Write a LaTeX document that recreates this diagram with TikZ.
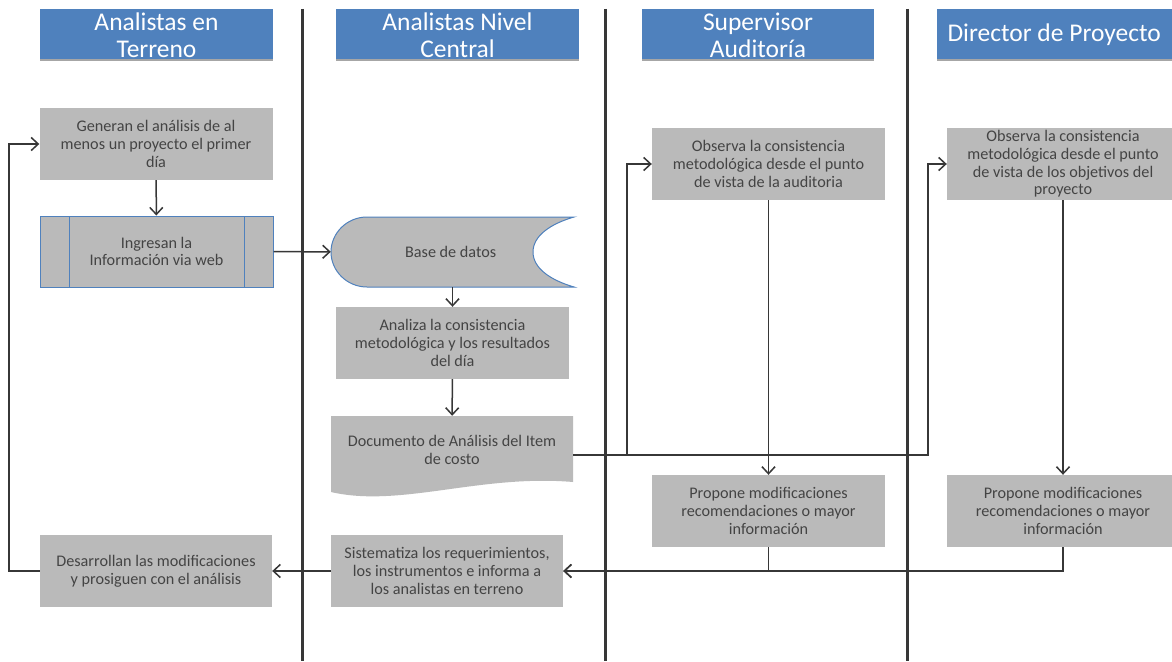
\documentclass[tikz,border=0pt]{standalone}
\usepackage{fontspec}
\setmainfont{Carlito}
\usetikzlibrary{arrows.meta}
\definecolor{hdrblue}{RGB}{79,129,189}
\definecolor{taskgray}{RGB}{186,186,186}
\definecolor{txtgray}{RGB}{68,68,68}
\definecolor{linegray}{RGB}{55,55,55}
\tikzset{
    lane/.style={draw=linegray, line width=3pt},
    hdr/.style={fill=hdrblue, text=white, inner sep=0pt, align=center,
        minimum height=52pt, font=\fontsize{25.5}{27}\selectfont,
        path picture={\draw[gray!70, line width=3pt]
            (path picture bounding box.south west) -- (path picture bounding box.south east);}},
    task/.style={fill=taskgray, text=txtgray, inner sep=0pt, align=center,
        minimum width=233pt, minimum height=72pt, font=\fontsize{16.2}{17.6}\selectfont},
    webbox/.style={task, draw=hdrblue, line width=1pt,
        path picture={\draw[hdrblue, line width=1pt]
            ([xshift=29pt]path picture bounding box.north west) -- ([xshift=29pt]path picture bounding box.south west)
            ([xshift=-29pt]path picture bounding box.north east) -- ([xshift=-29pt]path picture bounding box.south east);}},
    freebox/.style={task, fill=none},
    arrowline/.style={draw=linegray, line width=1.5pt, -{Straight Barb[length=7pt, width=13pt]}}
}
\begin{document}
\begin{tikzpicture}[x=1pt, y=-1pt]
        \clip (0,0) rectangle (1172,661);
        \fill[white] (0,0) rectangle (1172,661);

        \draw[lane] (302,9) -- (302,661);
        \draw[lane] (605,9) -- (605,661);
        \draw[lane] (907,9) -- (907,661);

        \node[hdr, minimum width=233pt] (hterreno) at (156.5,35) { Analistas en\\Terreno };
        \node[hdr, minimum width=243pt] (hcentral) at (457.5,35) { Analistas Nivel\\Central };
        \node[hdr, minimum width=232pt] (hsuper) at (758,35) { Supervisor\\Auditoría };
        \node[hdr, minimum width=240pt] (hdirector) at (1057,35) { Director de Proyecto };

        \filldraw[fill=taskgray, draw=hdrblue, line width=1pt]
            (367,217) -- (574,217)
            .. controls (550,224) and (533,236) .. (533,252)
            .. controls (533,268) and (550,280) .. (574,287)
            -- (367,287)
            .. controls (347,287) and (331,271) .. (331,252)
            .. controls (331,233) and (347,217) .. (367,217) -- cycle;
        \fill[taskgray]
            (331,416) -- (573,416) -- (573,482)
            .. controls (480,474) and (400,508) .. (331,492) -- cycle;

        \node[task] (generan) at (156,144) { Generan el análisis de al\\menos un proyecto el primer\\día };
        \node[webbox, minimum height=71pt] (ingresan) at (156.5,251.5) { Ingresan la\\Información via web };
        \node[freebox, minimum width=243pt, minimum height=70pt] (basedatos) at (452.5,252) { Base de datos };
        \node[task] (analiza) at (452.5,343) { Analiza la consistencia\\metodológica y los resultados\\del día };
        \node[freebox, minimum width=242pt, minimum height=68pt] (documento) at (452,450) { Documento de Análisis del Item\\de costo };
        \node[task] (obsaudit) at (768.5,164) { Observa la consistencia\\metodológica desde el punto\\de vista de la auditoria };
        \node[task, minimum width=232pt] (obsdir) at (1063,164) { Observa la consistencia\\metodológica desde el punto\\de vista de los objetivos del\\proyecto };
        \node[task] (propaudit) at (768.5,511) { Propone modificaciones\\recomendaciones o mayor\\información };
        \node[task, minimum width=232pt] (propdir) at (1063,511) { Propone modificaciones\\recomendaciones o mayor\\información };
        \node[task, minimum width=232pt] (sistematiza) at (447,571) { Sistematiza los requerimientos,\\los instrumentos e informa a\\los analistas en terreno };
        \node[task, minimum width=232pt] (desarrollan) at (156,571) { Desarrollan las modificaciones\\y prosiguen con el análisis };

        \coordinate (splitaudit) at (627,455);
        \coordinate (splitdir) at (928,455);
        \coordinate (backloop) at (9,571);

        \draw[arrowline] (generan) -- (ingresan);
        \draw[arrowline] (ingresan) -- (basedatos);
        \draw[arrowline] (basedatos) -- (analiza);
        \draw[arrowline] (analiza) -- (documento);
        \draw[arrowline] ([yshift=-5pt]documento.east) -- (splitaudit) |- (obsaudit.west);
        \draw[arrowline] (splitaudit) -- (splitdir) |- (obsdir.west);
        \draw[arrowline] (obsaudit) -- (propaudit);
        \draw[arrowline] (obsdir) -- (propdir);
        \draw[arrowline] (propaudit.south) |- (sistematiza.east);
        \draw[arrowline] (propdir.south) |- (sistematiza.east);
        \draw[arrowline] (sistematiza) -- (desarrollan);
        \draw[arrowline] (desarrollan.west) -- (backloop) |- (generan.west);
\end{tikzpicture}
\end{document}
